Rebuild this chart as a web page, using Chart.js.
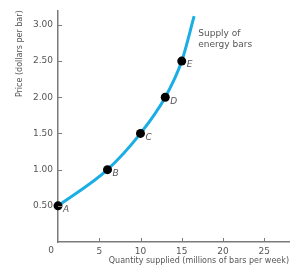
<!DOCTYPE html>
<html>
<head>
<meta charset="utf-8">
<script src="https://cdn.jsdelivr.net/npm/chart.js@4"></script>
<style>
  html, body { margin: 0; padding: 0; background: #fff; }
  #wrap { width: 296px; height: 269px; }
</style>
</head>
<body>
<div id="wrap"><canvas id="chart" width="296" height="269"></canvas></div>
<script>
/* ── DATA ───────────────────────────────────────────── */
const pointLabels = ["A", "B", "C", "D", "E", ""];
const quantity    = [0, 6, 10, 13, 15, 16.5];       // millions of bars per week
const price       = [0.5, 1.0, 1.5, 2.0, 2.5, 3.12]; // dollars per bar
const xTicks      = [0, 5, 10, 15, 20, 25];
const yTicks      = [0.5, 1.0, 1.5, 2.0, 2.5, 3.0];
const curveName   = ["Supply of", "energy bars"];

const AXIS = "#7a7a7a";
const TEXT = "#555";
const FONT = "'DejaVu Sans', sans-serif";

/* ── PLUGIN: inside ticks, origin, point letters, curve label ── */
const extras = {
  id: "extras",
  afterDatasetsDraw(chart) {
    const { ctx, scales: { x, y } } = chart;
    ctx.save();
    // tick marks pointing into the plot
    ctx.strokeStyle = AXIS;
    ctx.lineWidth = 1;
    xTicks.slice(1).forEach(v => {
      const px = Math.round(x.getPixelForValue(v)) + 0.5;
      ctx.beginPath();
      ctx.moveTo(px, y.bottom);
      ctx.lineTo(px, y.bottom - 4);
      ctx.stroke();
    });
    yTicks.forEach(v => {
      const py = Math.round(y.getPixelForValue(v)) + 0.5;
      ctx.beginPath();
      ctx.moveTo(x.left, py);
      ctx.lineTo(x.left + 4, py);
      ctx.stroke();
    });

    // origin "0", set a little left of the axis
    ctx.fillStyle = TEXT;
    ctx.font = "9px " + FONT;
    ctx.textAlign = "center";
    ctx.textBaseline = "top";
    ctx.fillText("0", x.left - 7, y.bottom + 4);

    // point letters
    const meta = chart.getDatasetMeta(0);
    ctx.font = "italic 9px " + FONT;
    ctx.textAlign = "left";
    ctx.textBaseline = "middle";
    meta.data.forEach((pt, i) => {
      if (!pointLabels[i]) return;
      ctx.fillText(pointLabels[i], pt.x + 5, pt.y + 4);
    });

    // curve label
    ctx.font = "9px " + FONT;
    const lx = x.getPixelForValue(17);
    const ly = y.getPixelForValue(2.88);
    curveName.forEach((t, i) => ctx.fillText(t, lx, ly + i * 11));
    ctx.restore();
  }
};

/* ── CHART ──────────────────────────────────────────── */
new Chart(document.getElementById("chart"), {
  type: "line",
  data: {
    datasets: [{
      data: quantity.map((q, i) => ({ x: q, y: price[i] })),
      borderColor: "#1aaee5",
      borderWidth: 3,
      cubicInterpolationMode: "monotone",
      pointRadius: pointLabels.map(l => l ? 4.5 : 0),
      pointBackgroundColor: "#000",
      pointBorderWidth: 0,
      clip: false
    }]
  },
  plugins: [extras],
  options: {
    responsive: false,
    animation: false,
    layout: { padding: { top: 9, right: 7, left: 0, bottom: 0 } },
    plugins: { legend: { display: false }, tooltip: { enabled: false } },
    scales: {
      x: {
        type: "linear",
        min: 0, max: 28,
        afterBuildTicks: s => { s.ticks = xTicks.map(v => ({ value: v })); },
        afterFit: s => { s.height = 27; },
        grid: { display: false, drawTicks: false },
        border: { color: AXIS, width: 1.5 },
        ticks: {
          color: TEXT, font: { family: FONT, size: 9 }, padding: 4,
          callback: v => (v === 0 ? "" : String(v))
        },
        title: {
          display: true, align: "end",
          text: "Quantity supplied (millions of bars per week)",
          color: TEXT, font: { family: FONT, size: 8 },
          padding: { top: 0, bottom: 3 }
        }
      },
      y: {
        type: "linear",
        min: 0, max: 3.2,
        afterBuildTicks: s => { s.ticks = yTicks.map(v => ({ value: v })); },
        afterFit: s => { s.width = 58; },
        grid: { display: false, drawTicks: false },
        border: { color: AXIS, width: 1.5 },
        ticks: {
          color: TEXT, font: { family: FONT, size: 9 }, padding: 5,
          callback: v => v.toFixed(2)
        },
        title: {
          display: true, align: "end",
          text: "Price (dollars per bar)",
          color: TEXT, font: { family: FONT, size: 8 },
          padding: { top: 15, bottom: 0 }
        }
      }
    }
  }
});
</script>
</body>
</html>
